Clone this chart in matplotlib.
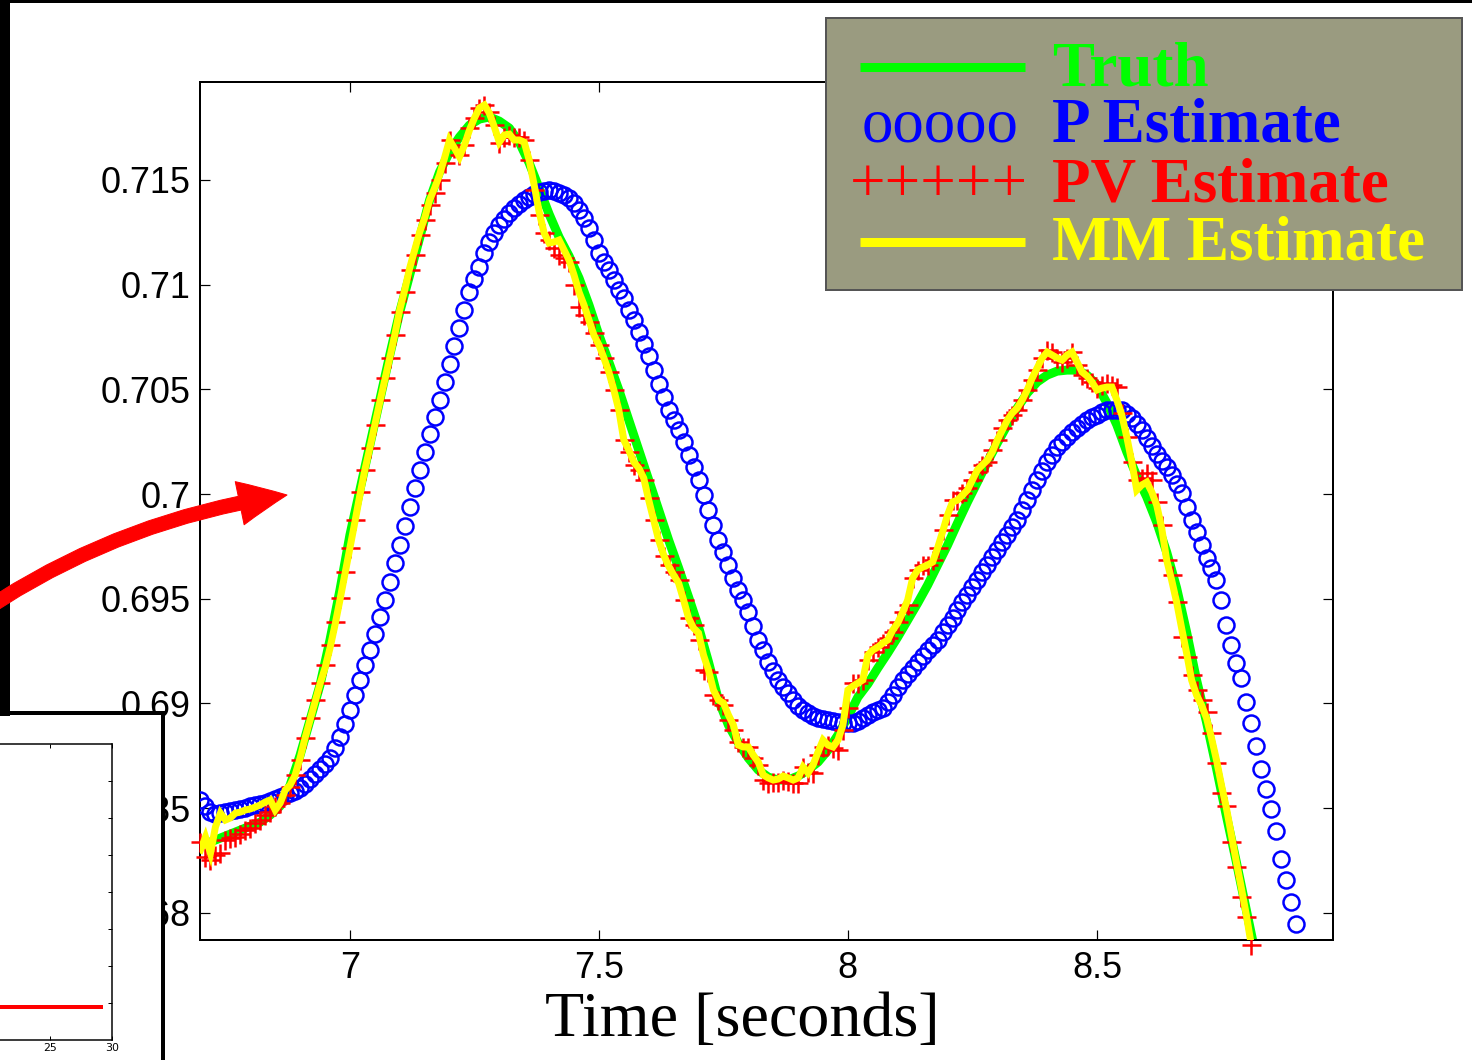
import numpy as np
import matplotlib
matplotlib.use('Agg')
import matplotlib.pyplot as plt
from matplotlib.patches import Rectangle, FancyArrowPatch

# ---- data ----
# truth, sampled every 0.02 s starting at 6.72 s
truth_t0, truth_dt = 6.72, 0.02
truth = [0.68338, 0.68357, 0.68376, 0.68395, 0.68414, 0.68433, 0.68467, 0.68510, 0.68610, 0.68753,
         0.68921, 0.69088, 0.69303, 0.69541, 0.69804, 0.70019, 0.70234, 0.70449, 0.70664, 0.70869,
         0.71046, 0.71223, 0.71404, 0.71538, 0.71633, 0.71705, 0.71762, 0.71791, 0.71801, 0.71781,
         0.71748, 0.71681, 0.71581, 0.71461, 0.71337, 0.71227, 0.71137, 0.71032, 0.70903, 0.70759,
         0.70630, 0.70497, 0.70353, 0.70210, 0.70067, 0.69924, 0.69780, 0.69647, 0.69508, 0.69365,
         0.69198, 0.69016, 0.68897, 0.68811, 0.68739, 0.68682, 0.68648, 0.68634, 0.68634, 0.68653,
         0.68682, 0.68720, 0.68777, 0.68849, 0.68935, 0.69030, 0.69093, 0.69169, 0.69241, 0.69317,
         0.69398, 0.69479, 0.69565, 0.69661, 0.69756, 0.69861, 0.69962, 0.70057, 0.70153, 0.70244,
         0.70330, 0.70411, 0.70482, 0.70535, 0.70568, 0.70587, 0.70592, 0.70592, 0.70568, 0.70521,
         0.70435, 0.70330, 0.70201, 0.70086, 0.69986, 0.69866, 0.69723, 0.69551, 0.69341, 0.69112,
         0.68911, 0.68691, 0.68462, 0.68242, 0.68013, 0.67784]

# estimates, sampled every 0.01 s starting at 6.70 s
est_t0, est_dt = 6.70, 0.01
p_est = [0.68539, 0.68510, 0.68481, 0.68472, 0.68476, 0.68481, 0.68486, 0.68491, 0.68496, 0.68500,
         0.68510, 0.68515, 0.68519, 0.68524, 0.68534, 0.68543, 0.68553, 0.68562, 0.68572, 0.68582,
         0.68596, 0.68615, 0.68639, 0.68663, 0.68687, 0.68710, 0.68739, 0.68787, 0.68839, 0.68902,
         0.68968, 0.69040, 0.69112, 0.69183, 0.69255, 0.69331, 0.69413, 0.69494, 0.69580, 0.69670,
         0.69756, 0.69847, 0.69938, 0.70029, 0.70115, 0.70201, 0.70287, 0.70368, 0.70449, 0.70535,
         0.70621, 0.70707, 0.70793, 0.70879, 0.70965, 0.71027, 0.71084, 0.71151, 0.71204, 0.71247,
         0.71285, 0.71313, 0.71342, 0.71366, 0.71385, 0.71404, 0.71418, 0.71433, 0.71442, 0.71447,
         0.71452, 0.71447, 0.71438, 0.71428, 0.71414, 0.71390, 0.71356, 0.71318, 0.71270, 0.71213,
         0.71151, 0.71108, 0.71070, 0.71022, 0.70974, 0.70936, 0.70879, 0.70831, 0.70774, 0.70716,
         0.70659, 0.70592, 0.70525, 0.70463, 0.70401, 0.70353, 0.70306, 0.70248, 0.70186, 0.70129,
         0.70067, 0.69995, 0.69924, 0.69852, 0.69780, 0.69723, 0.69661, 0.69599, 0.69542, 0.69494,
         0.69436, 0.69370, 0.69303, 0.69255, 0.69198, 0.69155, 0.69112, 0.69078, 0.69050, 0.69016,
         0.68987, 0.68968, 0.68954, 0.68940, 0.68930, 0.68925, 0.68921, 0.68916, 0.68911, 0.68906,
         0.68906, 0.68906, 0.68916, 0.68930, 0.68945, 0.68959, 0.68968, 0.68978, 0.69007, 0.69040,
         0.69078, 0.69112, 0.69140, 0.69169, 0.69198, 0.69226, 0.69255, 0.69279, 0.69303, 0.69341,
         0.69374, 0.69408, 0.69446, 0.69484, 0.69518, 0.69556, 0.69589, 0.69627, 0.69661, 0.69699,
         0.69733, 0.69771, 0.69804, 0.69842, 0.69876, 0.69924, 0.69971, 0.70019, 0.70067, 0.70110,
         0.70153, 0.70186, 0.70224, 0.70248, 0.70272, 0.70296, 0.70315, 0.70334, 0.70353, 0.70368,
         0.70377, 0.70392, 0.70401, 0.70401, 0.70401, 0.70401, 0.70382, 0.70363, 0.70334, 0.70306,
         0.70267, 0.70229, 0.70191, 0.70158, 0.70129, 0.70091, 0.70048, 0.70005, 0.69938, 0.69876,
         0.69819, 0.69756, 0.69694, 0.69647, 0.69589, 0.69494, 0.69374, 0.69279, 0.69193, 0.69121,
         0.69007, 0.68906, 0.68796, 0.68687, 0.68591, 0.68496, 0.68390, 0.68257, 0.68156, 0.68051,
         0.67946]

pv_est = [0.68338, 0.68266, 0.68252, 0.68276, 0.68285, 0.68348, 0.68357, 0.68362, 0.68376, 0.68395,
          0.68405, 0.68429, 0.68443, 0.68467, 0.68481, 0.68510, 0.68524, 0.68562, 0.68601, 0.68658,
          0.68730, 0.68835, 0.68930, 0.69016, 0.69097, 0.69183, 0.69279, 0.69389, 0.69503, 0.69627,
          0.69742, 0.69876, 0.70010, 0.70115, 0.70220, 0.70330, 0.70449, 0.70554, 0.70650, 0.70759,
          0.70869, 0.70965, 0.71070, 0.71141, 0.71237, 0.71309, 0.71380, 0.71438, 0.71500, 0.71581,
          0.71691, 0.71652, 0.71619, 0.71667, 0.71748, 0.71796, 0.71844, 0.71858, 0.71824, 0.71762,
          0.71676, 0.71705, 0.71715, 0.71705, 0.71705, 0.71691, 0.71595, 0.71452, 0.71333, 0.71247,
          0.71213, 0.71175, 0.71141, 0.71127, 0.71108, 0.70998, 0.70893, 0.70855, 0.70821, 0.70769,
          0.70712, 0.70650, 0.70583, 0.70497, 0.70401, 0.70258, 0.70201, 0.70139, 0.70115, 0.70067,
          0.69981, 0.69876, 0.69780, 0.69704, 0.69661, 0.69627, 0.69589, 0.69494, 0.69408, 0.69374,
          0.69303, 0.69159, 0.69150, 0.69040, 0.69016, 0.68992, 0.68921, 0.68873, 0.68816, 0.68792,
          0.68792, 0.68739, 0.68706, 0.68634, 0.68620, 0.68625, 0.68625, 0.68634, 0.68629, 0.68620,
          0.68620, 0.68696, 0.68672, 0.68668, 0.68753, 0.68792, 0.68801, 0.68787, 0.68777, 0.68873,
          0.68978, 0.69097, 0.69097, 0.69112, 0.69207, 0.69245, 0.69269, 0.69288, 0.69312, 0.69341,
          0.69389, 0.69436, 0.69470, 0.69599, 0.69637, 0.69661, 0.69661, 0.69685, 0.69742, 0.69828,
          0.69900, 0.69971, 0.69971, 0.70005, 0.70029, 0.70067, 0.70105, 0.70139, 0.70153, 0.70210,
          0.70258, 0.70315, 0.70353, 0.70377, 0.70401, 0.70449, 0.70497, 0.70544, 0.70592, 0.70650,
          0.70688, 0.70678, 0.70650, 0.70630, 0.70650, 0.70678, 0.70616, 0.70568, 0.70554, 0.70535,
          0.70506, 0.70521, 0.70530, 0.70521, 0.70511, 0.70387, 0.70272, 0.70153, 0.70067, 0.70076,
          0.70100, 0.70067, 0.69962, 0.69852, 0.69685, 0.69613, 0.69484, 0.69317, 0.69222, 0.69136,
          0.69064, 0.69016, 0.68959, 0.68859, 0.68715, 0.68572, 0.68510, 0.68338, 0.68219, 0.68075,
          0.67980, 0.67846]

mm_est = [0.68300, 0.68362, 0.68285, 0.68410, 0.68476, 0.68443, 0.68453, 0.68476, 0.68481, 0.68491,
          0.68496, 0.68505, 0.68515, 0.68529, 0.68539, 0.68491, 0.68524, 0.68586, 0.68610, 0.68658,
          0.68739, 0.68835, 0.68921, 0.69007, 0.69093, 0.69169, 0.69264, 0.69374, 0.69494, 0.69618,
          0.69742, 0.69866, 0.69995, 0.70115, 0.70220, 0.70330, 0.70439, 0.70544, 0.70650, 0.70759,
          0.70879, 0.70974, 0.71079, 0.71165, 0.71251, 0.71318, 0.71404, 0.71461, 0.71524, 0.71605,
          0.71691, 0.71652, 0.71610, 0.71667, 0.71738, 0.71796, 0.71844, 0.71858, 0.71820, 0.71753,
          0.71681, 0.71715, 0.71719, 0.71691, 0.71691, 0.71681, 0.71595, 0.71476, 0.71347, 0.71247,
          0.71199, 0.71204, 0.71213, 0.71165, 0.71118, 0.71046, 0.70965, 0.70903, 0.70831, 0.70759,
          0.70712, 0.70650, 0.70583, 0.70497, 0.70401, 0.70258, 0.70210, 0.70153, 0.70124, 0.70076,
          0.69971, 0.69876, 0.69780, 0.69709, 0.69656, 0.69613, 0.69575, 0.69494, 0.69408, 0.69360,
          0.69336, 0.69231, 0.69159, 0.69064, 0.69016, 0.69002, 0.68945, 0.68897, 0.68801, 0.68792,
          0.68792, 0.68753, 0.68720, 0.68658, 0.68644, 0.68634, 0.68639, 0.68653, 0.68644, 0.68634,
          0.68644, 0.68696, 0.68668, 0.68706, 0.68768, 0.68825, 0.68801, 0.68792, 0.68825, 0.68897,
          0.69064, 0.69083, 0.69097, 0.69112, 0.69231, 0.69255, 0.69269, 0.69288, 0.69303, 0.69350,
          0.69384, 0.69436, 0.69494, 0.69599, 0.69637, 0.69651, 0.69661, 0.69675, 0.69742, 0.69819,
          0.69900, 0.69962, 0.69971, 0.69995, 0.70019, 0.70067, 0.70115, 0.70139, 0.70162, 0.70201,
          0.70258, 0.70306, 0.70353, 0.70387, 0.70411, 0.70449, 0.70497, 0.70554, 0.70602, 0.70650,
          0.70678, 0.70664, 0.70650, 0.70640, 0.70664, 0.70678, 0.70630, 0.70583, 0.70564, 0.70535,
          0.70497, 0.70506, 0.70511, 0.70511, 0.70449, 0.70377, 0.70272, 0.70153, 0.70019, 0.70043,
          0.70057, 0.70010, 0.69947, 0.69838, 0.69685, 0.69589, 0.69484, 0.69360, 0.69241, 0.69112,
          0.69040, 0.68992, 0.68930, 0.68835, 0.68730, 0.68610, 0.68500, 0.68371, 0.68242, 0.68118,
          0.67989, 0.67846]

xticks = [7, 7.5, 8, 8.5]
yticks = [0.68, 0.685, 0.69, 0.695, 0.7, 0.705, 0.71, 0.715]
legend_labels = ['Truth', 'P Estimate', 'PV Estimate', 'MM Estimate']

# little zoomed-out plot in the corner (only its right end is visible)
inset_t = [0, 29.1]
inset_truth = [0.93, 0.93]
inset_pv = [0.9, 0.9]
inset_xticks = [25, 30]

# ---- layout ----
W, H = 1472, 1060
SANS = ['Liberation Sans', 'DejaVu Sans']
SERIF = ['Liberation Serif', 'DejaVu Serif']


def box(x0, y0, x1, y1):
    # pixel box (top-left origin) -> figure fraction rect
    return [x0 / W, 1 - y1 / H, (x1 - x0) / W, (y1 - y0) / H]


fig = plt.figure(figsize=(W / 72, H / 72), dpi=72, facecolor='white')

ax = fig.add_axes(box(200, 82, 1333, 940))
t_truth = truth_t0 + truth_dt * np.arange(len(truth))
t_p = est_t0 + est_dt * np.arange(len(p_est))
t_pv = est_t0 + est_dt * np.arange(len(pv_est))
t_mm = est_t0 + est_dt * np.arange(len(mm_est))

ax.plot(t_truth, truth, color='#00ff00', lw=9, solid_joinstyle='round', zorder=2)
ax.plot(t_p, p_est, 'o', ms=16, mfc='none', mec='#0000ff', mew=2.5, zorder=3)
ax.plot(t_pv, pv_est, '+', ms=19, color='#ff0000', mew=2.5, zorder=4, clip_on=False)
ax.plot(t_mm, mm_est, color='#ffff00', lw=7, solid_joinstyle='miter', zorder=5)

ax.set_xlim(6.699, 8.974)
ax.set_ylim(0.67870, 0.71968)
ax.set_xticks(xticks)
ax.set_xticklabels(['%g' % v for v in xticks])
ax.set_yticks(yticks)
ax.set_yticklabels(['%g' % v for v in yticks])
ax.tick_params(direction='in', top=True, right=True, length=10, width=1.2,
               labelsize=36, pad=9)
ax.tick_params(axis='x', pad=11)
for lab in ax.get_xticklabels() + ax.get_yticklabels():
    lab.set_family(SANS)
for s in ax.spines.values():
    s.set_linewidth(2)

fig.text(742 / W, 1 - 1036 / H, 'Time [seconds]', family=SERIF, fontsize=64,
         ha='center', va='baseline')

# ---- hand-made legend box ----
lax = fig.add_axes(box(826, 18, 1462, 290), zorder=4)
lax.set_xlim(826, 1462)
lax.set_ylim(290, 18)
lax.set_xticks([])
lax.set_yticks([])
lax.set_facecolor('#9a9b80')
for s in lax.spines.values():
    s.set_color('#555555')
    s.set_linewidth(2)
lax.plot([860, 1025], [67, 67], color='#00ff00', lw=9, solid_capstyle='butt')
lax.plot([860, 1025], [242, 242], color='#ffff00', lw=9, solid_capstyle='butt')
lax.text(862, 142, 'ooooo', family=SERIF, fontsize=63, color='#0000ff', va='baseline')
lax.text(850, 202, '+++++', family=SERIF, fontsize=63, color='#ff0000', va='baseline')
colors = ['#00ff00', '#0000ff', '#ff0000', '#ffff00']
baselines = [86, 142, 202, 260]
for lab, c, yb in zip(legend_labels, colors, baselines):
    lax.text(1052, yb, lab, family=SERIF, fontsize=63, fontweight='bold', color=c,
             va='baseline')

# ---- inset in the lower left corner ----
fig.add_artist(Rectangle((0, 0), 161 / W, 1 - 713 / H, transform=fig.transFigure,
                         facecolor='white', edgecolor='none', zorder=2))
iax = fig.add_axes(box(-260, 744, 112, 1040), zorder=3)
iax.plot(inset_t, inset_truth, color='#00ff00', lw=2)
iax.plot(inset_t, inset_pv, color='#ff0000', lw=4)
iax.set_xlim(0, 30)
iax.set_ylim(0, 8)
iax.set_xticks(inset_xticks)
iax.set_xticklabels(['%g' % v for v in inset_xticks])
iax.set_yticks([1, 2, 3, 4, 5, 6, 7])
iax.set_yticklabels([])
iax.tick_params(direction='in', top=True, right=True, length=4, width=1,
                labelsize=11, pad=3)
for s in iax.spines.values():
    s.set_linewidth(1.5)

# black slide edges and the inset frame
for x0, y0, x1, y1 in [(0, 0, W, 3), (0, 0, 10, 716), (0, 711, 165, 715), (161, 711, 165, H)]:
    r = box(x0, y0, x1, y1)
    fig.add_artist(Rectangle((r[0], r[1]), r[2], r[3], transform=fig.transFigure,
                             facecolor='black', edgecolor='none', zorder=5))

# red arrow pointing into the zoomed plot
arrow = FancyArrowPatch((-30 / W, 1 - 620 / H), (287 / W, 1 - 495 / H),
                        transform=fig.transFigure,
                        connectionstyle='arc3,rad=-0.12',
                        arrowstyle='simple,head_length=48,head_width=44,tail_width=14',
                        color='#ff0000', shrinkA=0, shrinkB=0, zorder=6)
fig.add_artist(arrow)

fig.savefig('out.png', dpi=72, facecolor='white')
